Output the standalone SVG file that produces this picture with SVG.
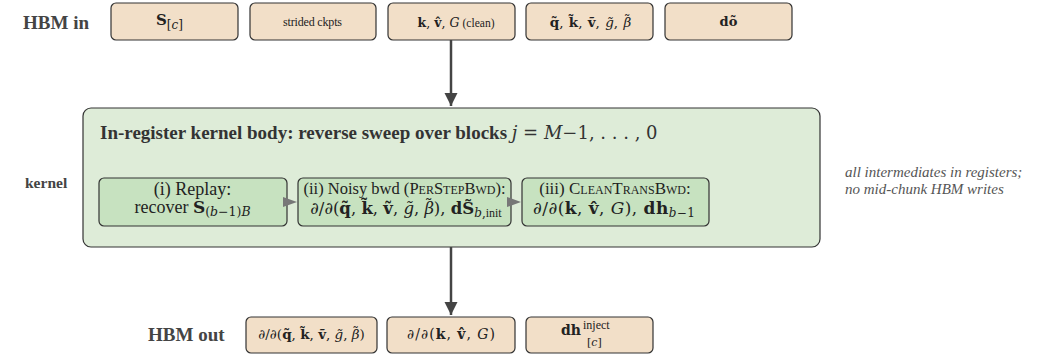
<svg xmlns="http://www.w3.org/2000/svg" width="1047" height="355" viewBox="0 0 1047 355" font-family="'Liberation Serif', 'DejaVu Serif', serif">
<style>
text{font-family:"Liberation Serif","DejaVu Serif",serif;}
.hbm{fill:#f2dfc8;stroke:#333;stroke-width:1.2;}
.ker{fill:#deecd8;stroke:#333;stroke-width:1.2;}
.stg{fill:#c7e2c0;stroke:#333;stroke-width:1.2;}
.lbl{font-weight:bold;fill:#444;}
.t{fill:#222;text-anchor:middle;}
.m{font-family:"DejaVu Serif","Liberation Serif",serif;}
.b{font-weight:bold;}
.i{font-style:italic;}
.note{font-style:italic;font-size:15px;fill:#555;}
.conn{stroke:#444;stroke-width:2.5;fill:none;}
</style>
<defs>
<marker id="ah" viewBox="0 0 10 10" refX="10" refY="5" markerWidth="5.4" markerHeight="5.4" orient="auto" markerUnits="strokeWidth">
<path d="M0,0 L10,5 L0,10 z" fill="#444"/>
</marker>
</defs>
<g id="labels">
<text class="lbl" x="23" y="29" style="font-size:19px">HBM in</text>
<text class="lbl" x="25" y="188" style="font-size:15.5px">kernel</text>
<text class="lbl" x="148" y="341" style="font-size:19px">HBM out</text>
<text class="note" x="845" y="177">all intermediates in registers;</text>
<text class="note" x="845" y="194">no mid-chunk HBM writes</text>
</g>
<g id="in-S">
<rect class="hbm" x="111" y="3" width="127" height="37" rx="5"/>
<text class="t m" x="169.5" y="25" font-size="15"><tspan class="b">S</tspan><tspan font-size="12" dy="4">[<tspan class="i">c</tspan>]</tspan></text>
</g>
<g id="in-ckpts">
<rect class="hbm" x="250" y="3" width="126" height="37" rx="5"/>
<text class="t" x="312.5" y="26" font-size="12" textLength="59">strided ckpts</text>
</g>
<g id="in-clean">
<rect class="hbm" x="388" y="3" width="127" height="37" rx="5"/>
<text class="t" x="456" y="27" font-size="12.5" textLength="77"><tspan class="m b">k</tspan><tspan class="m">, </tspan><tspan class="m b">v̂</tspan><tspan class="m">, </tspan><tspan class="m i">G</tspan> <tspan font-size="11.5">(clean)</tspan></text>
</g>
<g id="in-noisy">
<rect class="hbm" x="526" y="3" width="127" height="37" rx="5"/>
<text class="t m" x="590.5" y="27" font-size="13.5" word-spacing="1"><tspan class="b">q̃</tspan>, <tspan class="b">k̃</tspan>, <tspan class="b">ṽ</tspan>, <tspan class="i">g̃</tspan>, <tspan class="i">β</tspan><tspan dx="-7.5" dy="-3">˜</tspan><tspan dy="3" dx="0.5"> </tspan></text>
</g>
<g id="in-do">
<rect class="hbm" x="665" y="3" width="127" height="37" rx="5"/>
<text class="t m b" x="728.5" y="26" font-size="13">dõ</text>
</g>
<g id="kernel">
<rect class="ker" x="83" y="108" width="737" height="139" rx="8"/>
<text x="100" y="139" font-size="19" fill="#333"><tspan font-weight="bold">In-register kernel body: reverse sweep over blocks </tspan><tspan class="m" font-size="18"><tspan class="i">j</tspan> = <tspan class="i">M</tspan>−1, . . . , 0</tspan></text>
</g>
<g id="stage-i">
<rect class="stg" x="99" y="178" width="188" height="48" rx="5"/>
<text class="t" x="192.5" y="195" font-size="18">(i) Replay:</text>
<text class="t" x="192.5" y="213" font-size="18">recover <tspan class="m b" font-size="17">S</tspan><tspan class="m" font-size="12.5" dy="3">(<tspan class="i">b</tspan>−1)<tspan class="i">B</tspan></tspan></text>
</g>
<g id="stage-ii">
<rect class="stg" x="298" y="178" width="213" height="48" rx="5"/>
<text class="t" x="404.5" y="194" font-size="16.5">(ii) Noisy bwd (<tspan font-variant="small-caps">PerStepBwd</tspan>):</text>
<text class="t m" x="406" y="214" font-size="16.5"><tspan class="i">∂</tspan>/<tspan class="i">∂</tspan>(<tspan class="b">q̃</tspan>, <tspan class="b">k̃</tspan>, <tspan class="b">ṽ</tspan>, <tspan class="i">g̃</tspan>, <tspan class="i">β</tspan><tspan dx="-9.5" dy="-3.5">˜</tspan><tspan dx="1" dy="3.5">), </tspan><tspan class="b">dS̃</tspan><tspan font-size="12" dy="3"><tspan class="i">b</tspan>,<tspan font-family="Liberation Serif">init</tspan></tspan></text>
</g>
<g id="stage-iii">
<rect class="stg" x="522" y="178" width="187" height="48" rx="5"/>
<text class="t" x="615" y="194" font-size="17">(iii) <tspan font-variant="small-caps">CleanTransBwd</tspan>:</text>
<text class="t m" x="614" y="214" font-size="17" textLength="162"><tspan class="i">∂</tspan>/<tspan class="i">∂</tspan>(<tspan class="b">k</tspan>, <tspan class="b">v̂</tspan>, <tspan class="i">G</tspan>), <tspan class="b">dh</tspan><tspan font-size="12" dy="3"><tspan class="i">b</tspan>−1</tspan></text>
</g>
<g id="out-noisy">
<rect class="hbm" x="246" y="317" width="131" height="36" rx="5"/>
<text class="t m" x="311.5" y="339" font-size="13.5"><tspan class="i">∂</tspan>/<tspan class="i">∂</tspan>(<tspan class="b">q̃</tspan>, <tspan class="b">k̃</tspan>, <tspan class="b">ṽ</tspan>, <tspan class="i">g̃</tspan>, <tspan class="i">β</tspan><tspan dx="-7.5" dy="-3">˜</tspan><tspan dx="0.5" dy="3">)</tspan></text>
</g>
<g id="out-clean">
<rect class="hbm" x="387" y="317" width="128" height="36" rx="5"/>
<text class="t m" x="451" y="339" font-size="14" textLength="88"><tspan class="i">∂</tspan>/<tspan class="i">∂</tspan>(<tspan class="b">k</tspan>, <tspan class="b">v̂</tspan>, <tspan class="i">G</tspan>)</text>
</g>
<g id="out-dh">
<rect class="hbm" x="526" y="317" width="127" height="36" rx="5"/>
<text class="m b" x="561" y="335" font-size="14" fill="#222">dh</text>
<text x="583" y="329" font-size="12" fill="#222">inject</text>
<text class="m" x="587" y="346" font-size="11" fill="#222">[<tspan class="i">c</tspan>]</text>
</g>
<g id="connectors">
<line class="conn" x1="451" y1="40" x2="451" y2="106" marker-end="url(#ah)"/>
<line class="conn" x1="451" y1="247" x2="451" y2="315" marker-end="url(#ah)"/>
<path d="M283,197 L297,202 L283,207 z" fill="#777"/>
<path d="M507,197 L521,202 L507,207 z" fill="#777"/>
</g>
</svg>
